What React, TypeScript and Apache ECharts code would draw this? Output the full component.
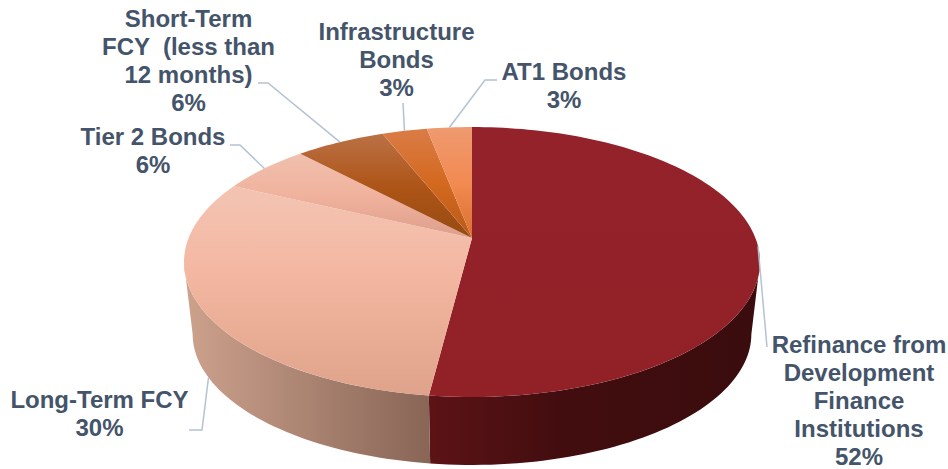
import React, { useEffect, useRef } from "react";
import * as echarts from "echarts";

const categories = [
  "Refinance from\nDevelopment\nFinance\nInstitutions",
  "Long-Term FCY",
  "Tier 2 Bonds",
  "Short-Term\nFCY  (less than\n12 months)",
  "Infrastructure\nBonds",
  "AT1 Bonds",
];
const shares = [52, 30, 6, 6, 3, 3];

// Perspective disc
const CX = 472, CY = 238, RX = 283.4, RY = 130.7, K = 0.178;
const RIM_Y = 262, DROP = 72, SCALE = 0.97;
const FACE_LIT = 100.3, FACE_END = 259.7;

const topStops = [
  [[0, "#93222a"], [1, "#912027"]],
  [[0, "#f3c4b3"], [0.4, "#f4b8a2"], [1, "#dfa38b"]],
  [[0, "#f1c0af"], [0.5, "#f0b29c"], [1, "#dd9f8b"]],
  [[0, "#bb7146"], [0.5, "#ae5518"], [1, "#974a12"]],
  [[0, "#da7c47"], [0.5, "#d4691f"], [1, "#b85a1a"]],
  [[0, "#ef9a70"], [0.5, "#f28a52"], [1, "#d9702e"]],
];
const sideStops = [
  [[0, "#5c1316"], [0.4, "#420d0f"], [1, "#3a0c0d"]],
  [[0, "#cda28d"], [1, "#886556"]],
];

const labelLayout = [
  { x: 859, y: 400.5, leader: [[767, 347]], side: false },
  { x: 99.5, y: 413, leader: [[202, 430], [189, 430]], side: true },
  { x: 153, y: 150, leader: [[240, 145], [230, 145]], side: false },
  { x: 188.5, y: 60, leader: [[268, 83], [258, 83]], side: false },
  { x: 396.5, y: 59, leader: [[403, 103]], side: false },
  { x: 564, y: 85, leader: [[485, 80], [497, 80]], side: false },
];

const rad = (d: number) => (d * Math.PI) / 180;
function top(deg: number): number[] {
  const u = Math.sin(rad(deg));
  const v = -Math.cos(rad(deg));
  const w = 1 - K * v;
  return [CX + (RX * u) / w, CY + (RY * v) / w];
}
function bottom(deg: number): number[] {
  const p = top(deg);
  return [CX + SCALE * (p[0] - CX), RIM_Y + DROP + SCALE * (p[1] - RIM_Y)];
}
function arc(fn: (d: number) => number[], a: number, b: number): number[][] {
  const n = Math.max(2, Math.ceil(Math.abs(b - a) / 1.5));
  const pts: number[][] = [];
  for (let i = 0; i <= n; i++) pts.push(fn(a + ((b - a) * i) / n));
  return pts;
}
const total = shares.reduce((s, v) => s + v, 0);
function range(i: number): number[] {
  let sum = 0;
  for (let j = 0; j < i; j++) sum += shares[j];
  return [(sum / total) * 360, ((sum + shares[i]) / total) * 360];
}
const gradient = (stops: any[], x2: number, y2: number) =>
  new echarts.graphic.LinearGradient(
    0, 0, x2, y2,
    stops.map((s) => ({ offset: s[0], color: s[1] }))
  );

function renderSlice(params: any) {
  const i = params.dataIndex;
  const [a, b] = range(i);
  const children: any[] = [];
  const sa = Math.max(a, FACE_LIT);
  const sb = Math.min(b, FACE_END);
  if (sb > sa && sideStops[i]) {
    const up = arc(top, sa, sb);
    const low = arc(bottom, sb, sa);
    children.push({
      type: "polygon",
      shape: { points: up.concat(low) },
      style: { fill: gradient(sideStops[i], 1, 0) },
    });
  }
  children.push({
    type: "polygon",
    shape: { points: [[CX, CY] as number[]].concat(arc(top, a, b)) },
    style: { fill: gradient(topStops[i], 0, 1) },
  });
  return { type: "group", children };
}

function renderLabel(params: any, api: any) {
  const i = params.dataIndex;
  const [a, b] = range(i);
  const mid = (a + b) / 2;
  const layout = labelLayout[i];
  const anchor = layout.side ? bottom(mid) : top(mid);
  return {
    type: "group",
    children: [
      {
        type: "polyline",
        shape: { points: [anchor].concat(layout.leader) },
        style: { fill: "none", stroke: "#b4c2d2", lineWidth: 1.5 },
      },
      {
        type: "text",
        x: layout.x,
        y: layout.y,
        style: {
          text: `${categories[i]}\n${api.value(0)}%`,
          fontFamily: "'Liberation Sans', Arial, sans-serif",
          fontWeight: "bold",
          fontSize: 24,
          lineHeight: 28,
          fill: "#44546a",
          align: "center",
          verticalAlign: "middle",
        },
      },
    ],
  };
}

export default function App() {
  const ref = useRef<HTMLDivElement>(null);
  useEffect(() => {
    const chart = echarts.init(ref.current!, undefined, { renderer: "svg" });
    chart.setOption({
      animation: false,
      backgroundColor: "#ffffff",
      series: [
        {
          type: "custom",
          coordinateSystem: "none",
          silent: true,
          data: shares,
          renderItem: renderSlice,
        },
        {
          type: "custom",
          coordinateSystem: "none",
          silent: true,
          data: shares,
          renderItem: renderLabel,
        },
      ],
    });
    return () => chart.dispose();
  }, []);
  return (
    <div
      ref={ref}
      style={{ position: "fixed", left: 0, top: 0, width: 948, height: 469 }}
    />
  );
}
